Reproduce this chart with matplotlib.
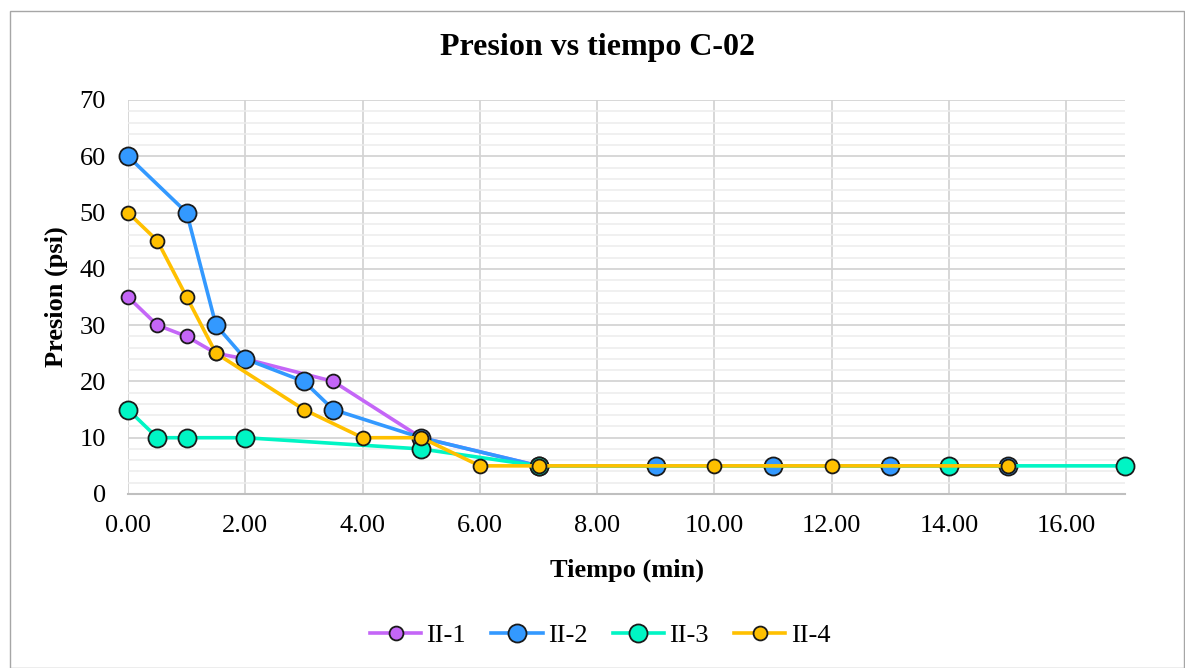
import matplotlib.pyplot as plt
from matplotlib.patches import Rectangle
from matplotlib.ticker import MultipleLocator, FormatStrFormatter

# datos
x_ii1 = [0, 0.5, 1, 1.5, 2, 3.5, 5, 7]
p_ii1 = [35, 30, 28, 25, 24, 20, 10, 5]
x_ii2 = [0, 1, 1.5, 2, 3, 3.5, 5, 7, 9, 11, 13, 15]
p_ii2 = [60, 50, 30, 24, 20, 15, 10, 5, 5, 5, 5, 5]
x_ii3 = [0, 0.5, 1, 2, 5, 7, 14, 17]
p_ii3 = [15, 10, 10, 10, 8, 5, 5, 5]
x_ii4 = [0, 0.5, 1, 1.5, 3, 4, 5, 6, 7, 10, 12, 15]
p_ii4 = [50, 45, 35, 25, 15, 10, 10, 5, 5, 5, 5, 5]

plt.rcParams['font.family'] = ['Liberation Serif', 'DejaVu Serif']

fig = plt.figure(figsize=(11.85, 6.68), dpi=100)
fig.patches.append(Rectangle((10/1185, 0), 1 - 11/1185, 1 - 11/668, transform=fig.transFigure,
                             fill=False, edgecolor='#a6a6a6', linewidth=1))
ax = fig.add_axes([128/1185, 1 - 494/668, (1125 - 128)/1185, (494 - 100)/668])

series = [
    (x_ii1, p_ii1, 'II-1', '#c466f7', 10),
    (x_ii2, p_ii2, 'II-2', '#3399ff', 13),
    (x_ii3, p_ii3, 'II-3', '#00f5c4', 13),
    (x_ii4, p_ii4, 'II-4', '#ffc000', 10),
]
for xs, ys, name, col, ms in series:
    ax.plot(xs, ys, color=col, lw=2.6, marker='o', ms=ms, mfc=col,
            mec='#1a1a1a', mew=1.3, label=name, zorder=3, clip_on=False)

ax.set_xlim(0, 17)
ax.set_ylim(0, 70)
ax.xaxis.set_major_locator(MultipleLocator(2))
ax.xaxis.set_major_formatter(FormatStrFormatter('%.2f'))
ax.yaxis.set_major_locator(MultipleLocator(10))
ax.yaxis.set_minor_locator(MultipleLocator(2))
ax.grid(which='major', axis='both', color='#d4d4d4', lw=1.3)
ax.grid(which='minor', axis='y', color='#ececec', lw=1.1)
ax.set_axisbelow(True)
for s in ['top', 'right', 'left']:
    ax.spines[s].set_visible(False)
ax.spines['bottom'].set_color('#bfbfbf')
ax.spines['bottom'].set_linewidth(1.5)
ax.tick_params(which='both', length=0, labelsize=19)
ax.tick_params(axis='x', pad=15)
ax.tick_params(axis='y', pad=16)

fig.text(597/1185, 1 - 48/668, 'Presion vs tiempo C-02', fontsize=23, fontweight='bold',
         ha='center', va='center')
ax.set_xlabel('Tiempo (min)', fontsize=19, fontweight='bold', labelpad=16)
ax.set_ylabel('Presion (psi)', fontsize=19, fontweight='bold', labelpad=8)

fig.legend(*ax.get_legend_handles_labels(), loc='center',
           bbox_to_anchor=(600/1185, 1 - 635/668), ncol=4, frameon=False,
           fontsize=19, handlelength=1.95, columnspacing=0.95, handletextpad=0.2)

fig.savefig('out.png', dpi=100)
